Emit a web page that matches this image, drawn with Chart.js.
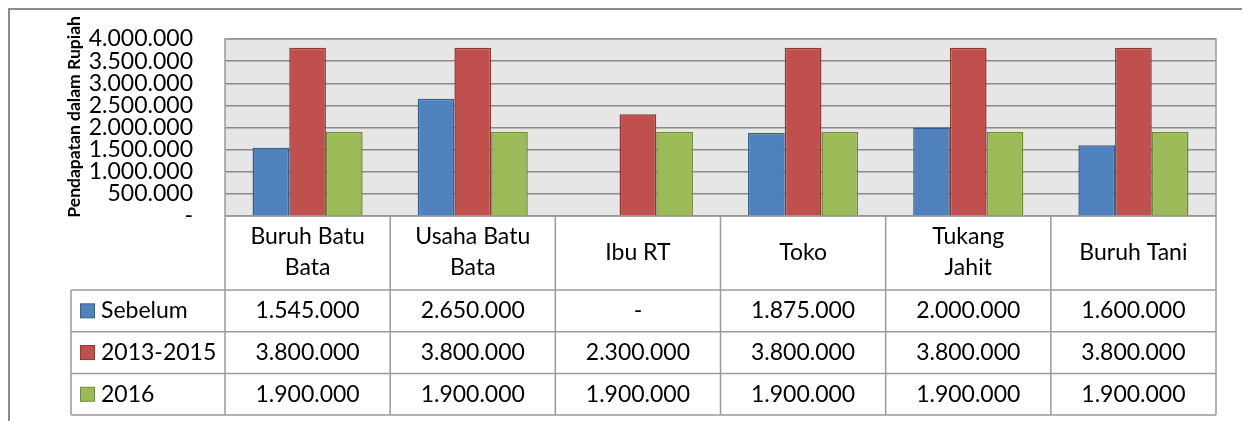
<!DOCTYPE html>
<html>
<head>
<meta charset="utf-8">
<script src="https://cdn.jsdelivr.net/npm/chart.js@4"></script>
<style>
  body { margin: 0; background: #fff; }
  canvas { display: block; }
</style>
</head>
<body>
<canvas id="chart" width="1242" height="421"></canvas>
<script>
// categories (multi-line labels as in the original)
const categories = [['Buruh Batu', 'Bata'], ['Usaha Batu', 'Bata'], ['Ibu RT'], ['Toko'], ['Tukang', 'Jahit'], ['Buruh Tani']];
const seriesNames = ['Sebelum', '2013-2015', '2016'];
const sebelum = [1545000, 2650000, null, 1875000, 2000000, 1600000];
const periode2013 = [3800000, 3800000, 2300000, 3800000, 3800000, 3800000];
const tahun2016 = [1900000, 1900000, 1900000, 1900000, 1900000, 1900000];
const yTicks = [0, 500000, 1000000, 1500000, 2000000, 2500000, 3000000, 3500000, 4000000];

const fills = ['#4F81BD', '#C0504D', '#9BBB59'];
const borders = ['#385D8A', '#8C3836', '#71893F'];
const FONT = 'Lato';

function fmt(v) {
    if (v === null || v === 0) return '-';
    return String(v).replace(/\B(?=(\d{3})+(?!\d))/g, '.');
}

const allSeries = [sebelum, periode2013, tahun2016];

const data = {
    labels: categories,
    datasets: allSeries.map((vals, i) => ({
        label: seriesNames[i],
        data: vals,
        backgroundColor: fills[i],
        borderColor: borders[i],
        borderWidth: 1.5,
        categoryPercentage: 3 / 4.5,
        barPercentage: 1.0
    }))
};

// background, frame and plot area fill
const backdrop = {
    id: 'backdrop',
    beforeDraw(chart) {
        const ctx = chart.ctx;
        const a = chart.chartArea;
        ctx.save();
        ctx.fillStyle = '#fff';
        ctx.fillRect(0, 0, chart.width, chart.height);
        ctx.strokeStyle = '#8c8c8c';
        ctx.lineWidth = 2;
        ctx.strokeRect(9, 9, chart.width + 20, chart.height + 20);
        ctx.fillStyle = '#e6e6e6';
        ctx.fillRect(a.left, a.top, a.right - a.left, a.bottom - a.top);
        ctx.restore();
    }
};

// data table under the plot
const dataTable = {
    id: 'dataTable',
    afterDraw(chart) {
        const ctx = chart.ctx;
        const a = chart.chartArea;
        const n = categories.length;
        const colW = (a.right - a.left) / n;
        const headBottom = 290;
        const rowH = 41.7;
        const tableLeft = 71;
        const tableBottom = headBottom + rowH * allSeries.length;
        ctx.save();
        ctx.strokeStyle = '#9a9a9a';
        ctx.lineWidth = 1.5;
        ctx.beginPath();
        // plot border
        ctx.rect(a.left, a.top, a.right - a.left, a.bottom - a.top);
        // header column lines
        for (let i = 0; i <= n; i++) {
            const x = a.left + i * colW;
            ctx.moveTo(x, a.bottom);
            ctx.lineTo(x, tableBottom);
        }
        // row lines
        for (let r = 0; r <= allSeries.length; r++) {
            const y = headBottom + r * rowH;
            ctx.moveTo(tableLeft, y);
            ctx.lineTo(a.right, y);
        }
        ctx.moveTo(tableLeft, headBottom);
        ctx.lineTo(tableLeft, tableBottom);
        ctx.stroke();

        ctx.font = '23px ' + FONT;
        ctx.fillStyle = '#000';
        ctx.textBaseline = 'middle';
        allSeries.forEach((vals, r) => {
            const cy = headBottom + r * rowH + rowH / 2;
            // legend key
            ctx.fillStyle = fills[r];
            ctx.strokeStyle = borders[r];
            ctx.lineWidth = 1;
            ctx.fillRect(80.5, cy - 7, 14, 14);
            ctx.strokeRect(80.5, cy - 7, 14, 14);
            ctx.fillStyle = '#000';
            ctx.textAlign = 'left';
            ctx.fillText(seriesNames[r], 101, cy);
            ctx.textAlign = 'center';
            vals.forEach((v, i) => {
                const cx = chart.scales.x.getPixelForValue(i);
                ctx.fillText(fmt(v), cx, cy);
            });
        });
        ctx.restore();
    }
};

const config = {
    type: 'bar',
    data: data,
    plugins: [backdrop, dataTable],
    options: {
        responsive: false,
        animation: false,
        devicePixelRatio: 1,
        layout: { padding: { left: 0, top: 39, right: 26, bottom: 0 } },
        plugins: {
            legend: { display: false },
            tooltip: { enabled: false }
        },
        scales: {
            x: {
                grid: { display: false, drawTicks: false },
                border: { display: false },
                ticks: {
                    color: '#000',
                    font: { family: FONT, size: 23, lineHeight: 1.33 },
                    padding: 21,
                    crossAlign: 'center',
                    maxRotation: 0,
                    autoSkip: false
                },
                afterFit(scale) { scale.height = 421 - 216; }
            },
            y: {
                min: 0,
                max: 4000000,
                afterBuildTicks(scale) { scale.ticks = yTicks.map(v => ({ value: v })); },
                grid: { color: '#8a8a8a', lineWidth: 1.5, drawTicks: false },
                border: { display: false },
                ticks: {
                    color: '#000',
                    font: { family: FONT, size: 23 },
                    padding: 32,
                    autoSkip: false,
                    callback: (v) => fmt(v)
                },
                title: {
                    display: true,
                    text: '\u00A0\u00A0\u00A0\u00A0\u00A0Pendapatan dalam Rupiah',
                    color: '#000',
                    font: { family: FONT, size: 17.5, weight: 'bold' },
                    padding: { top: 64, bottom: 0 }
                },
                afterFit(scale) {
                    scale.width = 225;
                    scale.paddingTop = 0;
                    scale.paddingBottom = 0;
                }
            }
        }
    }
};

var chartElem = new Chart(document.getElementById('chart'), config);
</script>
</body>
</html>
